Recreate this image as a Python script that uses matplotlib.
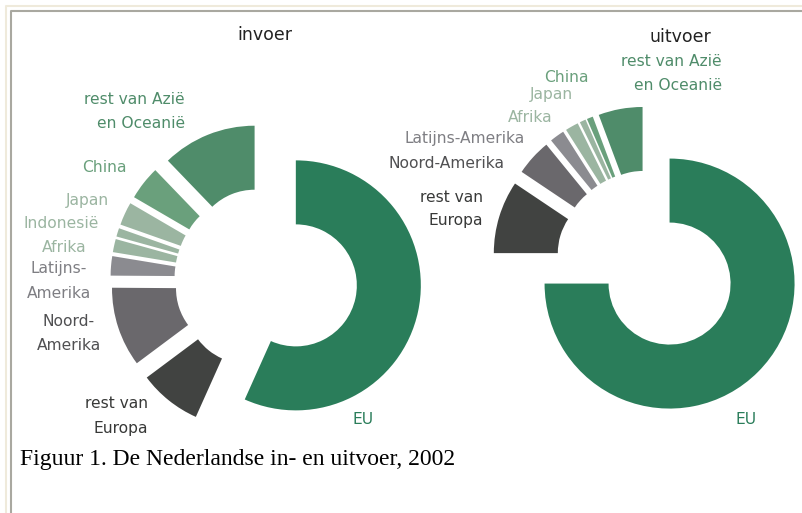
import matplotlib.pyplot as plt

# aandelen in procent
regio_invoer = ['EU', 'rest van Europa', 'Noord-Amerika', 'Latijns-Amerika', 'Afrika',
                'Indonesië', 'Japan', 'China', 'rest van Azië en Oceanië']
aandeel_invoer = [56.7, 8.1, 10.3, 2.5, 1.7, 1.1, 3.0, 4.4, 12.2]

regio_uitvoer = ['EU', 'rest van Europa', 'Noord-Amerika', 'Latijns-Amerika', 'Afrika',
                 'Japan', 'China', 'rest van Azië en Oceanië']
aandeel_uitvoer = [75.0, 9.4, 4.7, 1.9, 1.7, 0.8, 0.8, 5.7]

# kleuren van de segmenten en van de teksten
kleur = {
    'EU': '#2a7d5a',
    'rest van Europa': '#414341',
    'Noord-Amerika': '#6a686c',
    'Latijns-Amerika': '#8b8b90',
    'Afrika': '#9bb5a1',
    'Indonesië': '#9bb5a1',
    'Japan': '#9bb5a1',
    'China': '#6aa07c',
    'rest van Azië en Oceanië': '#4f8c6a',
}
tekstkleur = dict(kleur)
tekstkleur['rest van Europa'] = '#383938'
tekstkleur['Noord-Amerika'] = '#505052'
tekstkleur['Latijns-Amerika'] = '#7e7e83'

W, H = 802, 513
fig = plt.figure(figsize=(W / 100, H / 100), dpi=100)
ax = fig.add_axes([0, 0, 1, 1])


def donut(regios, aandelen, cx, cy):
    # cx, cy in pixels vanaf linksboven; explode werkt in dezelfde eenheden als radius
    ax.pie(aandelen, colors=[kleur[r] for r in regios], startangle=90, counterclock=False,
           radius=125, center=(cx, H - cy), explode=[30.5] * len(aandelen), frame=True,
           wedgeprops=dict(width=64, linewidth=0, antialiased=True))


donut(regio_invoer, aandeel_invoer, 266, 279)
donut(regio_uitvoer, aandeel_uitvoer, 648, 262)

# labels: tekst, x, y (pixels), uitlijning
labels_invoer = {
    'EU': ('EU', 363, 420, 'center'),
    'rest van Europa': ('rest van\nEuropa', 148, 416, 'right'),
    'Noord-Amerika': ('Noord-\nAmerika', 69, 333, 'center'),
    'Latijns-Amerika': ('Latijns-\nAmerika', 59, 281, 'center'),
    'Afrika': ('Afrika', 64, 247, 'center'),
    'Indonesië': ('Indonesië', 61, 223, 'center'),
    'Japan': ('Japan', 87, 200, 'center'),
    'China': ('China', 104, 168, 'center'),
    'rest van Azië en Oceanië': ('rest van Azië\nen Oceanië', 185, 111, 'right'),
}
labels_uitvoer = {
    'EU': ('EU', 746, 419, 'center'),
    'rest van Europa': ('rest van\nEuropa', 483, 209, 'right'),
    'Noord-Amerika': ('Noord-Amerika', 446, 163, 'center'),
    'Latijns-Amerika': ('Latijns-Amerika', 465, 139, 'center'),
    'Afrika': ('Afrika', 530, 118, 'center'),
    'Japan': ('Japan', 551, 95, 'center'),
    'China': ('China', 566, 78, 'center'),
    'rest van Azië en Oceanië': ('rest van Azië\nen Oceanië', 722, 73, 'right'),
}

for labels in (labels_invoer, labels_uitvoer):
    for regio, (txt, x, y, ha) in labels.items():
        ax.text(x, H - y, txt, ha=ha, va='center', multialignment=ha, fontsize=11.2,
                color=tekstkleur[regio], family='DejaVu Sans', linespacing=1.75)

ax.text(265, H - 35, 'invoer', ha='center', va='center', fontsize=12.5, color='#222222')
ax.text(680, H - 37, 'uitvoer', ha='center', va='center', fontsize=12.5, color='#222222')

ax.text(20, H - 459, 'Figuur 1. De Nederlandse in- en uitvoer, 2002', ha='left', va='center',
        fontsize=17, family='Liberation Serif', color='black')

# kader zoals op de webpagina
ax.plot([5.5, 5.5, W], [0, H - 5.5, H - 5.5], color='#efeadb', lw=1.5)
ax.plot([11, 11, W], [0, H - 11, H - 11], color='#a9a8a0', lw=1.5)

ax.set_xlim(0, W)
ax.set_ylim(0, H)
ax.set_aspect('equal')
ax.axis('off')

fig.savefig('out.png', dpi=100)
